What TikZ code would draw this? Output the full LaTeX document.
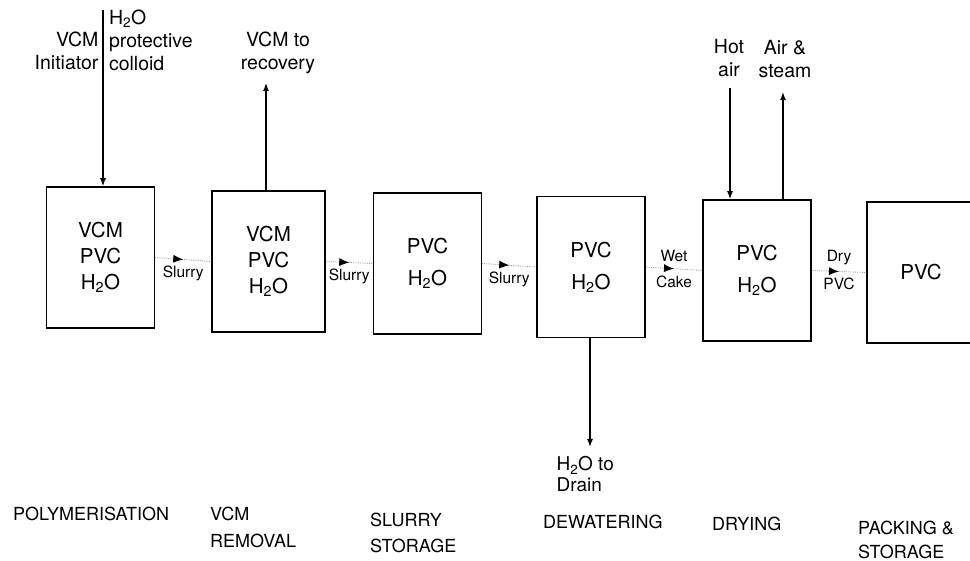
\documentclass[tikz,border=0pt]{standalone}
\usepackage{fontspec}
\setmainfont{TeX Gyre Heros}
\usetikzlibrary{arrows.meta, decorations.markings}

\newcommand{\water}{H\textsubscript{2}O}

\begin{document}
\begin{tikzpicture}[x=1pt, y=-1pt,
    unit/.style={draw, line width=1.6pt, minimum width=108pt, minimum height=141pt,
                 align=center, font=\fontsize{20.5}{26}\selectfont},
    twoline/.style={font=\fontsize{20.5}{32}\selectfont},
    feed/.style={line width=1.4pt, -{Latex[length=8pt,width=6pt]}},
    slurry/.style={densely dotted, line width=0.8pt, black!40, postaction={decorate},
        decoration={markings, mark=at position 0.5 with {\arrow[black]{Latex[length=10pt,width=8pt]}}}},
    tag/.style={font=\fontsize{15.5}{17}\selectfont, text=black},
    note/.style={font=\fontsize{19.5}{23}\selectfont, align=center},
    stage/.style={font=\fontsize{18}{27}\selectfont, align=left, anchor=north west, inner sep=0pt}]
    \useasboundingbox (0,0) rectangle (970,561);

    % process units
    \node[unit] (poly) at (100.5,257.5) {VCM\\PVC\\\water};
    \node[unit, minimum width=113pt] (strip) at (268.5,261.5) {VCM\\PVC\\\water};
    \node[unit, twoline] (tank) at (427.5,263.5) {PVC\\\water};
    \node[unit, twoline] (filter) at (591,267) {PVC\\\water};
    \node[unit, twoline] (dryer) at (757,270.5) {PVC\\\water};
    \node[unit] (pack) at (921,272.5) {PVC};

    % transfers between units
    \draw[slurry] (poly.east) -- (strip.west) node[tag, midway, below=3pt] (s1) {Slurry};
    \draw[slurry] (strip.east) -- (tank.west) node[tag, midway, below=3pt] (s2) {Slurry};
    \draw[slurry] (tank.east) -- (filter.west) node[tag, midway, below=3pt] (s3) {Slurry};
    \draw[slurry] (filter.east) -- (dryer.west)
      node[tag, midway, above=3pt] (wet) {Wet} node[tag, midway, below=3pt] (cake) {Cake};
    \draw[slurry] (dryer.east) -- (pack.west)
      node[tag, midway, above=3pt] (dry) {Dry} node[tag, midway, below=3pt] (drypvc) {PVC};

    % charge to the reactor
    \coordinate (charge) at (103,10);
    \draw[feed] (charge) -- (charge |- poly.north);
    \node[note, anchor=east, align=right] (chargel) at (102,51) {VCM\\Initiator};
    \node[note, anchor=west, align=left] (charger) at (105.5,40) {\water\\protective\\colloid};

    % vent from stripper
    \coordinate (vent) at (266,83);
    \draw[feed] (vent |- strip.north) -- (vent);
    \node[note] (ventl) at (278,53) {VCM to\\recovery};

    % dryer air
    \coordinate (hotin) at (730,88);
    \draw[feed] (hotin) -- (hotin |- dryer.north);
    \node[note] (hotl) at (729,58) {Hot\\air};
    \coordinate (steamout) at (783,92);
    \draw[feed] (steamout |- dryer.north) -- (steamout);
    \node[note] (steaml) at (785,59) {Air \&\\steam};

    % water off the filter
    \coordinate (drain) at (590,447);
    \draw[feed] (drain |- filter.south) -- (drain);
    \node[note, align=left, anchor=north west, font=\fontsize{19}{21}\selectfont]
      (drainl) at (553,453) {\water{} to\\Drain};

    % stage names
    \node[stage] (st1) at (13,507) {POLYMERISATION};
    \node[stage] (st2) at (210,507) {VCM\\REMOVAL};
    \node[stage, font=\fontsize{18}{26}\selectfont] (st3) at (370,513) {SLURRY\\STORAGE};
    \node[stage] (st4) at (543,515) {DEWATERING};
    \node[stage] (st5) at (712,517) {DRYING};
    \node[stage, font=\fontsize{18}{24}\selectfont] (st6) at (858,521) {PACKING \&\\STORAGE};
\end{tikzpicture}
\end{document}
